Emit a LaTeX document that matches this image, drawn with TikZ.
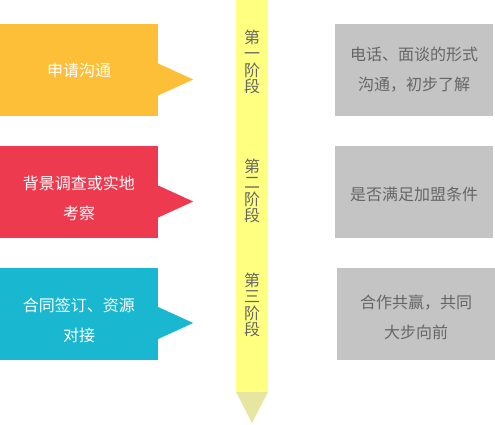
\documentclass[tikz,border=0pt]{standalone}
\usepackage{fontspec}
\setmainfont{Noto Sans CJK SC}
\usepackage{xcolor}
\usetikzlibrary{positioning}
\definecolor{applyorange}{HTML}{FDBE38}
\definecolor{checkred}{HTML}{EE3A4F}
\definecolor{signcyan}{HTML}{1AB7D0}
\definecolor{notegrey}{HTML}{C4C4C4}
\definecolor{notetext}{HTML}{666666}
\definecolor{baryellow}{HTML}{FFFF80}
\definecolor{tipyellow}{HTML}{E6E6A0}

\begin{document}
\begin{tikzpicture}[x=1pt,y=1pt,
  phase/.style={minimum width=158pt,minimum height=92pt,inner sep=0pt,
    text=white,align=center,font=\fontsize{16}{30}\selectfont},
  note/.style={fill=notegrey,minimum width=158pt,minimum height=92pt,inner sep=0pt,
    text=notetext,align=center,font=\fontsize{16}{30}\selectfont},
  stage/.style={text=notetext,align=center,inner sep=0pt,font=\fontsize{16}{16.5}\selectfont}]
  \useasboundingbox (0,0) rectangle (495,424);
  % timeline bar
  \fill[baryellow] (236,424) rectangle (268,32);
  \fill[tipyellow] (236,32) -- (268,32) -- (252,1) -- cycle;
  % left phases
  \node[phase,fill=applyorange] (apply) at (79,354) {申请沟通};
  \node[phase,fill=checkred,text height=57pt] (check) at (79,232) {背景调查或实地\\考察};
  \node[phase,fill=signcyan,text height=57pt] (sign) at (79,110.5) {合同签订、资源\\对接};
  \fill[applyorange] ([yshift=6.5pt]apply.east) -- ([xshift=35pt,yshift=-9.5pt]apply.east) -- ([yshift=-25.5pt]apply.east) -- cycle;
  \fill[checkred] ([yshift=6.5pt]check.east) -- ([xshift=35pt,yshift=-9.5pt]check.east) -- ([yshift=-25.5pt]check.east) -- cycle;
  \fill[signcyan] ([yshift=6.5pt]sign.east) -- ([xshift=35pt,yshift=-9.5pt]sign.east) -- ([yshift=-25.5pt]sign.east) -- cycle;
  % stage labels
  \node[stage] (stage1) at (252,362) {第\\一\\阶\\段};
  \node[stage] (stage2) at (252,233) {第\\二\\阶\\段};
  \node[stage] (stage3) at (252,119) {第\\三\\阶\\段};
  % right notes
  \node[note] (talk) at (414,354) {电话、面谈的形式\\沟通，初步了解};
  \node[note,text height=19pt] (meet) at (414,232) {是否满足加盟条件};
  \node[note,text height=51pt] (win) at (416,110.5) {合作共赢，共同\\大步向前};
\end{tikzpicture}
\end{document}
